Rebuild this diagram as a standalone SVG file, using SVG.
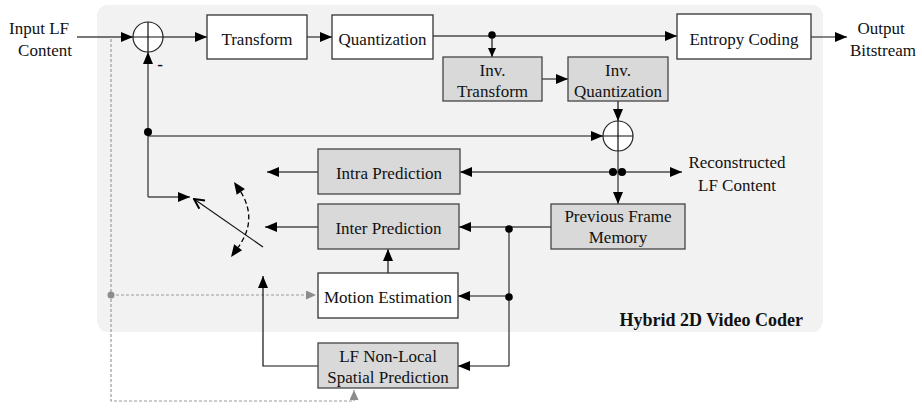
<svg xmlns="http://www.w3.org/2000/svg" width="916" height="403" viewBox="0 0 916 403">
  <defs>
    <marker id="arr" viewBox="0 0 12 10" markerWidth="12" markerHeight="10" refX="12" refY="5" orient="auto" markerUnits="userSpaceOnUse">
      <path d="M0,0 L12,5 L0,10 Z" fill="#000"/>
    </marker>
    <marker id="arrSmall" viewBox="0 0 9 8" markerWidth="9" markerHeight="8" refX="9" refY="4" orient="auto" markerUnits="userSpaceOnUse">
      <path d="M0,0 L9,4 L0,8 Z" fill="#000"/>
    </marker>
    <marker id="arrGray" viewBox="0 0 10 9" markerWidth="10" markerHeight="9" refX="10" refY="4.5" orient="auto" markerUnits="userSpaceOnUse">
      <path d="M0,0 L10,4.5 L0,9 Z" fill="#8c8c8c"/>
    </marker>
    <marker id="arrOpen" viewBox="0 0 12 12" markerWidth="12" markerHeight="12" refX="11" refY="6" orient="auto" markerUnits="userSpaceOnUse">
      <path d="M1,1 L11,6 L1,11" fill="none" stroke="#000" stroke-width="2"/>
    </marker>
  </defs>
  <style>
    .panel { fill: #f2f2f2; }
    .box { fill: #ffffff; stroke: #333333; stroke-width: 1.3; }
    .gbox { fill: #d9d9d9; stroke: #444444; stroke-width: 1.3; }
    .sum { fill: #ffffff; stroke: #222222; stroke-width: 1.2; }
    .t { font-family: "Liberation Serif", "Times New Roman", serif; font-size: 17px; fill: #111111; text-anchor: middle; }
    .title { font-family: "Liberation Serif", "Times New Roman", serif; font-size: 18px; font-weight: bold; fill: #111111; text-anchor: end; }
    .ln { fill: none; stroke: #4a4a4a; stroke-width: 1.4; }
    .lb { fill: none; stroke: #111111; stroke-width: 1.2; }
    .dash { fill: none; stroke: #9a9a9a; stroke-width: 1.2; stroke-dasharray: 3 2; }
    .dot { fill: #000000; }
  </style>

  <!-- coder frame -->
  <rect class="panel" x="97" y="5" width="726" height="327" rx="11" ry="11"/>
  <text class="title" x="803" y="326">Hybrid 2D Video Coder</text>

  <!-- free labels -->
  <text class="t" x="39" y="34">Input LF</text>
  <text class="t" x="45" y="56">Content</text>
  <text class="t" x="881" y="34">Output</text>
  <text class="t" x="883" y="56">Bitstream</text>
  <text class="t" x="737" y="168">Reconstructed</text>
  <text class="t" x="737" y="191">LF Content</text>
  <text class="t" x="160" y="70" style="font-weight:bold">-</text>

  <!-- connectors -->
  <g id="connectors">
    <!-- reference input path (dashed) -->
    <path class="dash" d="M111,39 V401 H354 V390" marker-end="url(#arrGray)"/>
    <path class="dash" d="M111,295 H316" marker-end="url(#arrGray)"/>
    <circle cx="111" cy="295" r="3.5" fill="#8c8c8c"/>

    <!-- forward path -->
    <path class="ln" d="M77,37 H133" marker-end="url(#arr)"/>
    <path class="ln" d="M163,37 H207" marker-end="url(#arr)"/>
    <path class="ln" d="M307,37 H332" marker-end="url(#arr)"/>
    <path class="ln" d="M433,36 H677" marker-end="url(#arr)"/>
    <path class="lb" d="M811,37 H847" marker-end="url(#arr)"/>
    <circle class="dot" cx="492" cy="35" r="3.8"/>
    <path class="lb" d="M492,35 V57" marker-end="url(#arrSmall)"/>
    <path class="ln" d="M542,79 H568" marker-end="url(#arr)"/>
    <path class="lb" d="M618,101 V121" marker-end="url(#arr)"/>

    <!-- prediction feedback -->
    <path class="ln" d="M148,197 V52" marker-end="url(#arr)"/>
    <path class="lb" d="M148,136 H603" marker-end="url(#arr)"/>
    <circle class="dot" cx="148" cy="132" r="4"/>
    <path class="ln" d="M148,197 H190" marker-end="url(#arr)"/>

    <!-- mode switch -->
    <path class="lb" d="M263,247 L194,199" marker-end="url(#arrOpen)"/>
    <path d="M240.8,191.9 Q258,220 238.1,247.3" fill="none" stroke="#000" stroke-width="1.3" stroke-dasharray="5 3"/>
    <path d="M234,182 L244.9,189.1 L236.7,194.7 Z" fill="#000"/>
    <path d="M231,257 L242.1,250.3 L234.1,244.3 Z" fill="#000"/>

    <!-- reconstruction -->
    <path class="ln" d="M618,151 V204" marker-end="url(#arr)"/>
    <path class="ln" d="M536,172 H460" marker-end="url(#arr)"/>
    <path class="ln" d="M536,172 H682" marker-end="url(#arr)"/>
    <circle class="dot" cx="613" cy="172" r="4"/>
    <circle class="dot" cx="622" cy="172" r="4"/>

    <!-- predictions to switch -->
    <path class="ln" d="M318,172 H267" marker-end="url(#arr)"/>
    <path class="ln" d="M318,227 H265" marker-end="url(#arr)"/>

    <!-- frame memory fan-out -->
    <path class="ln" d="M551,227 H459" marker-end="url(#arr)"/>
    <path class="ln" d="M509,228 V366"/>
    <circle class="dot" cx="509" cy="229" r="3.8"/>
    <path class="lb" d="M509,296 H458" marker-end="url(#arr)"/>
    <circle class="dot" cx="509" cy="297" r="3.8"/>
    <path class="lb" d="M509,366 H458" marker-end="url(#arr)"/>
    <path class="lb" d="M388,273 V249" marker-end="url(#arr)"/>
    <path class="lb" d="M318,366 H263 V276" marker-end="url(#arr)"/>
  </g>

  <!-- summing junctions -->
  <g id="sum-input">
    <circle class="sum" cx="148" cy="37" r="15"/>
    <path class="lb" d="M133,37 H163 M148,22 V52"/>
  </g>
  <g id="sum-recon">
    <circle class="sum" cx="618" cy="136" r="15"/>
    <path class="lb" d="M603,136 H633 M618,121 V151"/>
  </g>

  <!-- blocks -->
  <g id="transform">
    <rect class="box" x="207" y="15" width="100" height="44"/>
    <text class="t" x="257" y="45">Transform</text>
  </g>
  <g id="quantization">
    <rect class="box" x="332" y="15" width="101" height="44"/>
    <text class="t" x="382.5" y="45">Quantization</text>
  </g>
  <g id="entropy-coding">
    <rect class="box" x="677" y="14" width="134" height="45"/>
    <text class="t" x="744" y="45">Entropy Coding</text>
  </g>
  <g id="inv-transform">
    <rect class="gbox" x="443" y="57" width="99" height="44"/>
    <text class="t" x="492.5" y="76">Inv.</text>
    <text class="t" x="492.5" y="97">Transform</text>
  </g>
  <g id="inv-quantization">
    <rect class="gbox" x="568" y="57" width="100" height="44"/>
    <text class="t" x="618" y="76">Inv.</text>
    <text class="t" x="618" y="97">Quantization</text>
  </g>
  <g id="intra-prediction">
    <rect class="gbox" x="318" y="149" width="142" height="45"/>
    <text class="t" x="389" y="179">Intra Prediction</text>
  </g>
  <g id="inter-prediction">
    <rect class="gbox" x="318" y="204" width="141" height="45"/>
    <text class="t" x="388.5" y="234">Inter Prediction</text>
  </g>
  <g id="previous-frame-memory">
    <rect class="gbox" x="551" y="204" width="134" height="45"/>
    <text class="t" x="618" y="222">Previous Frame</text>
    <text class="t" x="618" y="243">Memory</text>
  </g>
  <g id="motion-estimation">
    <rect class="box" x="318" y="273" width="140" height="45"/>
    <text class="t" x="388" y="303">Motion Estimation</text>
  </g>
  <g id="lf-non-local">
    <rect class="gbox" x="318" y="343" width="140" height="45"/>
    <text class="t" x="388" y="362">LF Non-Local</text>
    <text class="t" x="388" y="383">Spatial Prediction</text>
  </g>
</svg>
